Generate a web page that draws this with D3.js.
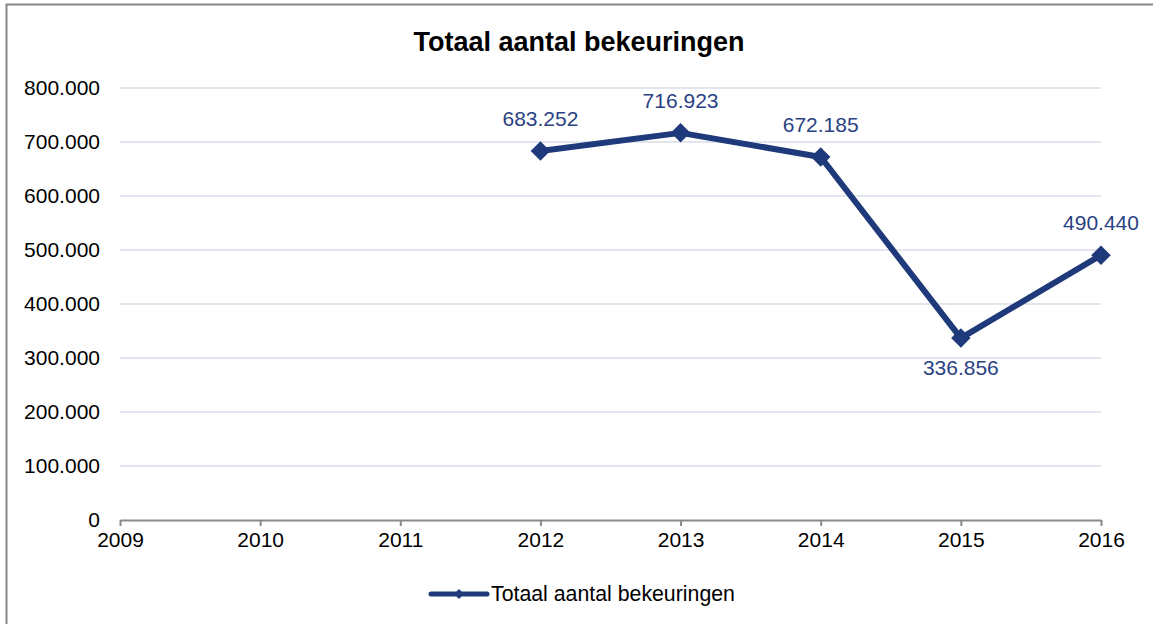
<!DOCTYPE html>
<html>
<head>
<meta charset="utf-8">
<script src="https://cdn.jsdelivr.net/npm/d3@7"></script>
<style>
  body { margin: 0; background: #fff; }
  svg text { font-family: "Liberation Sans", Arial, sans-serif; }
</style>
</head>
<body>
<div id="chart"></div>
<script>
// chart data
const years = [2009, 2010, 2011, 2012, 2013, 2014, 2015, 2016];
const boeteYears = [2012, 2013, 2014, 2015, 2016];
const boeteValues = [683252, 716923, 672185, 336856, 490440];
const yTickValues = [0, 100000, 200000, 300000, 400000, 500000, 600000, 700000, 800000];
const seriesName = "Totaal aantal bekeuringen";
const chartTitle = "Totaal aantal bekeuringen";

const width = 1153, height = 624;
const margin = { top: 88, bottom: 104, left: 120, right: 52 };
const lineColor = "#1f3a7a";

const fmt = d3.formatLocale({ decimal: ",", thousands: ".", grouping: [3], currency: ["€", ""] }).format(",d");

const svg = d3.select("#chart").append("svg")
  .attr("width", width)
  .attr("height", height);

// outer frame (only left and top edges are in view)
svg.append("rect")
  .attr("x", 6.5).attr("y", 4.5)
  .attr("width", width + 20).attr("height", height + 20)
  .attr("fill", "#fff")
  .attr("stroke", "#868686")
  .attr("stroke-width", 2);

const xScale = d3.scaleLinear()
  .domain([years[0], years[years.length - 1]])
  .range([margin.left, width - margin.right]);

const yScale = d3.scaleLinear()
  .domain([0, 800000])
  .range([height - margin.bottom, margin.top]);

// gridlines
svg.append("g")
  .attr("class", "grid")
  .selectAll("line")
  .data(yTickValues.filter(d => d > 0))
  .enter().append("line")
  .attr("x1", margin.left).attr("x2", width - margin.right)
  .attr("y1", d => yScale(d)).attr("y2", d => yScale(d))
  .attr("stroke", "#d9dde9")
  .attr("stroke-width", 1.5);

// y axis: labels only
const yAxis = svg.append("g")
  .attr("transform", `translate(${margin.left}, 0)`)
  .call(d3.axisLeft(yScale).tickValues(yTickValues).tickFormat(fmt).tickSize(0).tickPadding(20));
yAxis.select(".domain").remove();
yAxis.selectAll("text").attr("font-size", 21).attr("fill", "#000").attr("font-family", "Liberation Sans, Arial, sans-serif");

// x axis
const xAxis = svg.append("g")
  .attr("transform", `translate(0, ${yScale(0)})`)
  .call(d3.axisBottom(xScale).tickValues(years).tickFormat(d3.format("d")).tickSizeInner(6).tickSizeOuter(0).tickPadding(6));
xAxis.select(".domain").attr("stroke", "#898989").attr("stroke-width", 2);
xAxis.selectAll(".tick line").attr("stroke", "#898989").attr("stroke-width", 2);
xAxis.selectAll("text").attr("font-size", 21).attr("fill", "#000").attr("font-family", "Liberation Sans, Arial, sans-serif");

// title
svg.append("text")
  .attr("x", 579).attr("y", 51)
  .attr("text-anchor", "middle")
  .attr("font-size", 27)
  .attr("font-weight", "bold")
  .attr("fill", "#000")
  .text(chartTitle);

const points = boeteYears.map((y, i) => ({ year: y, value: boeteValues[i] }));

// series line
const line = d3.line()
  .x(d => xScale(d.year))
  .y(d => yScale(d.value));

svg.append("path")
  .datum(points)
  .attr("d", line)
  .attr("fill", "none")
  .attr("stroke", lineColor)
  .attr("stroke-width", 6)
  .attr("stroke-linejoin", "round");

// diamond markers
const diamond = d3.symbol().type(d3.symbolSquare).size(190);
svg.append("g")
  .selectAll("path")
  .data(points)
  .enter().append("path")
  .attr("d", diamond)
  .attr("transform", d => `translate(${xScale(d.year)}, ${yScale(d.value)}) rotate(45)`)
  .attr("fill", lineColor);

// data labels (the dip year gets its label below the point)
svg.append("g")
  .selectAll("text")
  .data(points)
  .enter().append("text")
  .attr("x", d => xScale(d.year))
  .attr("y", d => d.year === 2015 ? yScale(d.value) + 37 : yScale(d.value) - 25)
  .attr("text-anchor", "middle")
  .attr("font-size", 21)
  .attr("fill", "#2a4283")
  .text(d => fmt(d.value));

// legend
const legend = svg.append("g").attr("transform", "translate(431, 594)");
legend.append("line")
  .attr("x1", 0).attr("x2", 56)
  .attr("y1", 0).attr("y2", 0)
  .attr("stroke", lineColor)
  .attr("stroke-width", 5)
  .attr("stroke-linecap", "round");
legend.append("path")
  .attr("d", d3.symbol().type(d3.symbolSquare).size(50))
  .attr("transform", "translate(28, 0) rotate(45)")
  .attr("fill", lineColor);
legend.append("text")
  .attr("x", 60).attr("y", 7)
  .attr("font-size", 21.3)
  .attr("fill", "#000")
  .text(seriesName);
</script>
</body>
</html>
